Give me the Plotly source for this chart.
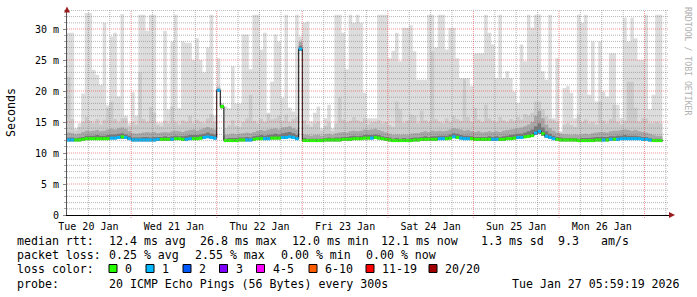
import plotly.graph_objects as go
import pandas as pd

# ---------------- data (hourly, starting Tue 20 Jan 2026 06:00) ----------------
median = [12.1,12.1,12.1,12.1,12.2,12.3,12.3,12.3,12.3,12.3,
          12.3,12.3,12.4,12.4,12.5,12.6,12.5,12.3,12.1,12.1,
          12.1,12.1,12.1,12.1,12.1,12.2,12.2,12.2,12.2,12.2,
          12.3,12.3,12.2,12.2,12.3,12.3,12.3,12.4,12.5,12.6,
          12.5,12.4,20.1,17.5,12.0,12.0,12.0,12.0,12.1,12.1,
          12.1,12.1,12.2,12.3,12.3,12.3,12.3,12.4,12.4,12.4,
          12.5,12.5,12.6,12.5,12.3,26.8,12.0,12.0,12.0,12.0,
          12.0,12.0,12.1,12.1,12.1,12.1,12.1,12.2,12.2,12.2,
          12.3,12.3,12.3,12.4,12.4,12.4,12.5,12.4,12.3,12.2,
          12.1,12.0,12.0,12.0,12.0,12.0,12.0,12.1,12.1,12.2,
          12.2,12.2,12.2,12.2,12.3,12.3,12.3,12.4,12.6,12.5,
          12.4,12.3,12.3,12.3,12.2,12.2,12.2,12.2,12.2,12.2,
          12.2,12.2,12.2,12.3,12.3,12.4,12.5,12.5,12.6,12.7,
          12.8,13.2,13.5,13.1,12.7,12.5,12.3,12.2,12.1,12.1,
          12.1,12.1,12.1,12.0,12.0,12.0,12.0,12.0,12.1,12.1,
          12.1,12.1,12.2,12.2,12.2,12.3,12.3,12.3,12.3,12.3,
          12.3,12.2,12.2,12.1,12.0,12.0,12.0]

loss = [1,1,0,0,0,0,0,0,0,0,
        0,0,1,1,1,0,1,1,1,1,
        1,1,1,1,1,1,0,0,0,1,
        0,0,0,1,1,0,0,0,1,1,
        1,1,1,0,0,0,0,0,0,0,
        1,1,0,0,0,1,1,0,0,0,
        1,1,1,1,1,1,0,0,0,0,
        0,0,0,0,0,0,0,0,0,0,
        0,0,0,0,0,1,0,0,0,0,
        0,0,0,0,0,0,0,0,0,0,
        0,0,0,0,1,1,0,0,1,0,
        1,1,1,0,0,0,0,0,0,1,
        1,0,0,0,0,0,1,1,0,0,
        0,1,1,0,1,1,1,0,0,0,
        0,0,0,0,0,0,0,0,0,0,
        1,0,1,0,1,1,1,1,1,1,
        1,1,1,1,0,0,0]

rtt_max = [29.4,29.4,14.0,14.8,19.6,32.6,32.6,23.4,22.6,21.0,
           31.0,17.7,28.8,29.4,19.1,32.4,16.0,14.8,19.8,16.0,
           32.3,32.3,29.7,32.3,32.3,14.9,14.9,29.7,17.0,28.0,
           32.3,17.2,28.0,27.8,27.8,25.0,28.5,25.0,23.0,27.0,
           32.3,16.0,25.3,18.1,17.5,17.2,24.0,18.0,18.0,29.1,
           29.1,23.5,32.3,32.3,26.7,29.4,16.5,21.5,29.1,28.0,
           18.9,32.3,17.3,16.7,32.3,28.8,31.0,31.2,15.1,16.5,
           17.5,14.0,15.6,17.8,14.0,32.3,32.3,29.4,23.5,32.3,
           31.0,32.3,31.0,19.7,15.6,15.6,15.6,32.3,32.3,32.3,
           25.3,26.5,29.4,24.8,30.2,30.2,30.6,26.4,21.8,21.8,
           21.8,32.3,32.3,27.0,32.3,32.3,26.7,30.2,30.2,25.3,
           22.1,19.9,22.1,20.8,26.1,26.1,26.1,32.3,29.4,27.5,
           22.1,32.3,22.1,23.2,22.1,19.9,18.1,27.5,24.8,32.3,
           30.2,32.3,32.3,23.2,21.8,32.3,15.6,25.3,13.5,20.5,
           20.8,19.7,15.6,32.3,31.0,32.3,19.4,28.0,18.3,28.0,
           19.9,19.1,26.1,26.1,17.8,15.6,31.8,28.0,31.8,28.5,
           25.0,25.0,32.3,17.0,19.4,32.3,32.3]

rtt_p90 = [22.3,15.5,13.6,14.2,15.0,15.8,15.2,14.8,15.5,14.6,
           15.4,17.3,18.3,15.5,14.9,15.6,15.6,14.3,15.0,14.6,
           23.0,15.5,15.0,17.4,16.5,14.5,14.3,15.2,14.8,17.5,
           15.0,14.6,15.3,15.0,16.0,14.8,15.4,15.0,14.8,15.6,
           16.3,15.0,20.8,17.9,14.0,14.5,15.3,14.4,14.2,15.0,
           15.6,19.4,15.2,14.8,15.5,15.0,16.3,15.4,15.6,16.0,
           15.2,16.2,15.0,15.5,15.8,28.2,15.3,14.6,14.2,14.8,
           15.0,13.6,14.4,14.9,13.5,14.8,19.0,15.4,15.0,15.2,
           15.8,15.3,15.0,15.6,14.6,14.9,15.0,15.3,14.8,15.0,
           14.5,14.2,18.3,17.0,14.8,15.2,16.2,16.0,14.8,16.8,
           15.3,15.0,26.4,15.5,15.0,14.8,15.6,15.0,16.0,15.5,
           15.2,22.0,15.8,15.0,17.3,15.4,15.0,17.8,15.6,15.2,
           15.0,15.8,15.3,15.0,15.5,15.2,15.8,15.4,16.3,16.0,
           16.5,18.3,18.3,17.0,16.0,15.5,15.3,15.0,13.3,14.6,
           14.8,14.5,14.2,16.2,15.0,15.4,14.8,15.0,14.6,18.3,
           15.2,14.8,15.5,17.8,15.0,14.6,15.2,21.5,21.5,17.3,
           15.0,15.6,15.6,14.8,14.8,15.0,14.8]

rtt_p75 = [13.3,13.2,13.0,13.1,13.4,13.6,13.5,13.6,13.7,13.5,
           13.6,13.8,13.9,13.8,14.0,14.1,13.9,13.5,13.2,13.1,
           13.2,13.3,13.4,13.3,13.4,13.2,13.3,13.4,13.3,13.5,
           13.6,13.5,13.4,13.6,13.7,13.8,13.6,13.8,14.0,14.2,
           14.0,13.8,20.5,17.8,12.9,13.0,13.1,13.0,13.1,13.2,
           13.3,13.2,13.4,13.6,13.7,13.6,13.8,13.9,14.0,13.8,
           14.1,14.2,14.3,14.0,13.8,27.9,13.0,12.9,12.8,12.9,
           12.9,12.8,13.0,13.1,12.9,13.2,13.3,13.4,13.3,13.5,
           13.6,13.5,13.6,13.8,13.7,13.8,13.9,13.7,13.5,13.3,
           13.1,12.9,13.0,12.9,13.0,12.9,13.1,13.2,13.2,13.4,
           13.5,13.4,13.6,13.5,13.6,13.5,13.6,13.8,14.0,13.9,
           13.8,13.6,13.7,13.5,13.4,13.5,13.3,13.4,13.5,13.4,
           13.5,13.4,13.6,13.7,13.8,13.9,14.0,14.1,14.3,14.6,
           15.0,16.0,16.8,15.6,14.6,14.0,13.6,13.3,13.1,13.0,
           13.0,12.9,13.0,12.9,13.0,13.1,13.0,13.2,13.3,13.4,
           13.4,13.3,13.5,13.6,13.6,13.7,13.8,13.7,13.6,13.7,
           13.5,13.4,13.3,13.1,12.9,12.8,12.8]

rtt_p60 = [12.5,12.5,12.4,12.5,12.6,12.8,12.8,12.8,12.9,12.8,
           12.8,12.9,13.0,13.0,13.1,13.2,13.0,12.8,12.5,12.5,
           12.5,12.6,12.6,12.5,12.6,12.6,12.6,12.7,12.6,12.7,
           12.8,12.7,12.7,12.8,12.9,12.9,12.9,13.0,13.1,13.3,
           13.1,13.0,20.3,17.7,12.3,12.4,12.4,12.4,12.5,12.5,
           12.6,12.5,12.7,12.8,12.9,12.8,12.9,13.0,13.1,13.0,
           13.2,13.3,13.4,13.2,12.9,27.3,12.4,12.3,12.3,12.3,
           12.3,12.3,12.4,12.5,12.4,12.5,12.5,12.6,12.6,12.7,
           12.8,12.7,12.8,12.9,12.9,12.9,13.0,12.9,12.7,12.6,
           12.5,12.3,12.4,12.3,12.4,12.3,12.4,12.5,12.5,12.6,
           12.7,12.6,12.7,12.7,12.8,12.8,12.8,13.0,13.2,13.1,
           12.9,12.8,12.8,12.7,12.6,12.6,12.6,12.6,12.7,12.6,
           12.7,12.6,12.7,12.8,12.9,13.0,13.1,13.1,13.3,13.5,
           13.8,14.3,14.8,14.1,13.5,13.1,12.8,12.6,12.5,12.4,
           12.4,12.4,12.4,12.3,12.4,12.4,12.4,12.5,12.6,12.6,
           12.6,12.6,12.7,12.7,12.8,12.8,12.9,12.8,12.8,12.8,
           12.7,12.6,12.6,12.4,12.3,12.3,12.3]

rtt_min = [11.9,11.9,11.9,11.9,12.0,12.1,12.1,12.1,12.1,12.1,
           12.1,12.1,12.2,12.2,12.3,12.3,12.3,12.1,11.9,11.9,
           11.9,11.9,11.9,11.9,11.9,12.0,12.0,12.0,12.0,12.0,
           12.1,12.1,12.0,12.0,12.1,12.1,12.1,12.2,12.3,12.4,
           12.3,12.2,19.9,17.2,11.8,11.8,11.8,11.8,11.9,11.9,
           11.9,11.9,12.0,12.1,12.1,12.1,12.1,12.2,12.2,12.2,
           12.3,12.3,12.4,12.3,12.1,26.5,11.8,11.8,11.8,11.8,
           11.8,11.8,11.9,11.9,11.9,11.9,11.9,12.0,12.0,12.0,
           12.1,12.1,12.1,12.2,12.2,12.2,12.3,12.2,12.1,12.0,
           11.9,11.8,11.8,11.8,11.8,11.8,11.8,11.9,11.9,12.0,
           12.0,12.0,12.0,12.0,12.1,12.1,12.1,12.2,12.4,12.3,
           12.2,12.1,12.1,12.1,12.0,12.0,12.0,12.0,12.0,12.0,
           12.0,12.0,12.0,12.1,12.1,12.2,12.3,12.3,12.4,12.5,
           12.6,12.9,13.1,12.8,12.4,12.3,12.1,12.0,11.9,11.9,
           11.9,11.9,11.9,11.8,11.8,11.8,11.8,11.8,11.9,11.9,
           11.9,11.9,12.0,12.0,12.0,12.1,12.1,12.1,12.1,12.1,
           12.1,12.0,12.0,11.9,11.8,11.8,11.8]

start_time = "2026-01-20 06:00"
day_labels = ["Tue 20 Jan", "Wed 21 Jan", "Thu 22 Jan", "Fri 23 Jan",
              "Sat 24 Jan", "Sun 25 Jan", "Mon 26 Jan"]
y_tick_vals = [0, 5, 10, 15, 20, 25, 30]
y_tick_labels = ["0", "5 m", "10 m", "15 m", "20 m", "25 m", "30 m"]

loss_bins = ["0", "1", "2", "3", "4-5", "6-10", "11-19", "20/20"]
loss_colors = ["#26ff00", "#00b8ff", "#0059ff", "#7e00ff",
               "#ff00ff", "#ff5e00", "#ff0000", "#a00000"]

rtt_stats = ["12.4 ms avg", "26.8 ms max", "12.0 ms min", "12.1 ms now", "1.3 ms sd", "9.3", "am/s"]
loss_stats = ["0.25 % avg", "2.55 % max", "0.00 % min", "0.00 % now"]
probe_text = "20 ICMP Echo Pings (56 Bytes) every 300s"
stamp_text = "Tue Jan 27 05:59:19 2026"

# ---------------- geometry ----------------
W, H = 697, 297
ML, MR, MT, MB = 67, 28, 10, 82
PW, PH = W - ML - MR, H - MT - MB
PX_PER_MS = 6.2
PX_PER_HOUR = 3.565
Y_MAX = PH / PX_PER_MS
MONO = "DejaVu Sans Mono"

def px_x(px):
    return (px - ML) / PW

def px_y(py):
    return (MT + PH - py) / PH

n = len(median)
t0 = pd.Timestamp(start_time)
edges = [t0 + pd.Timedelta(hours=i) for i in range(n + 1)]
x_end = t0 + pd.Timedelta(hours=PW / PX_PER_HOUR)

def stepped(vals):
    return list(vals) + [vals[-1]]

fig = go.Figure()

# smoke layers as stepped filled bands between rtt_min and each upper percentile
layers = [(rtt_max, "#dddddd"), (rtt_p90, "#cbcbcb"), (rtt_p75, "#a8a8a8"), (rtt_p60, "#787878")]
for upper, col in layers:
    fig.add_trace(go.Scatter(
        x=edges, y=stepped(rtt_min), mode="lines",
        line=dict(shape="hv", width=0, color=col),
        hoverinfo="skip", showlegend=False))
    fig.add_trace(go.Scatter(
        x=edges, y=stepped(upper), mode="lines", fill="tonexty", fillcolor=col,
        line=dict(shape="hv", width=0, color=col),
        hoverinfo="skip", showlegend=False))

# median step line (black)
fig.add_trace(go.Scatter(
    x=edges, y=stepped(median), mode="lines",
    line=dict(shape="hv", color="#000000", width=1),
    hoverinfo="skip", showlegend=False))

# median coloured by loss: one horizontal segment per hour
for ci, col in enumerate(loss_colors):
    xs, ys = [], []
    for i in range(n):
        if loss[i] == ci:
            xs += [edges[i], edges[i + 1], None]
            ys += [median[i], median[i], None]
    if xs:
        fig.add_trace(go.Scatter(
            x=xs, y=ys, mode="lines", line=dict(color=col, width=3),
            connectgaps=False, hoverinfo="skip", showlegend=False))

shapes = []
GREY = "rgba(120,120,120,0.55)"
RED = "rgba(225,0,0,0.42)"
# horizontal grid
for v in range(1, int(Y_MAX) + 1):
    shapes.append(dict(type="line", xref="paper", yref="y", x0=0, x1=1, y0=v, y1=v,
                       line=dict(color=RED if v % 5 == 0 else GREY, width=1, dash="1px,1px"),
                       layer="above"))
# vertical grid every 6 hours, red at midnight
t = t0 + pd.Timedelta(hours=6)
while t <= x_end:
    is_mid = t.hour == 0
    shapes.append(dict(type="line", xref="x", yref="paper", x0=t, x1=t,
                       y0=px_y(218) if is_mid else 0, y1=1,
                       line=dict(color=RED if is_mid else GREY, width=1, dash="1px,1px"),
                       layer="above"))
    t += pd.Timedelta(hours=6)

# axis arrows
ARROW = "#9b1c1c"
shapes.append(dict(type="path", xref="paper", yref="paper",
                   path=f"M {px_x(64)},{px_y(12.5)} L {px_x(70)},{px_y(12.5)} L {px_x(67)},{px_y(6.5)} Z",
                   fillcolor=ARROW, line=dict(width=0), layer="above"))
shapes.append(dict(type="path", xref="paper", yref="paper",
                   path=f"M {px_x(669)},{px_y(212)} L {px_x(669)},{px_y(218)} L {px_x(675)},{px_y(215)} Z",
                   fillcolor=ARROW, line=dict(width=0), layer="above"))

annotations = []

def txt(text, x, y, size=11.6, anchor="left", color="#000000", angle=0):
    annotations.append(dict(text=text, x=px_x(x), y=px_y(y), xref="paper", yref="paper",
                            xanchor=anchor, yanchor="middle", showarrow=False, borderpad=0,
                            textangle=angle, font=dict(family=MONO, size=size, color=color)))

# y axis title and side text
txt("Seconds", 11, 113, size=11.6, anchor="center", angle=-90)
txt("RRDTOOL / TOBI OETIKER", 688, 61, size=8.2, anchor="center", color="#b0b0b0", angle=90)

# legend lines
L1, L2, L3, L4 = 240.5, 255.0, 269.3, 283.8
txt("median rtt:", 16, L1)
for s, x in zip(rtt_stats, [107.7, 199, 290.7, 380.3, 480.3, 557, 600.3]):
    txt(s, x, L1)
txt("packet loss:", 16, L2)
for s, x in zip(loss_stats, [107.7, 194, 280, 365.3]):
    txt(s, x, L2)
txt("loss color:", 16, L3)
box_left = [109, 146, 183, 219.5, 256.5, 309, 366, 429]
for lbl, col, bx in zip(loss_bins, loss_colors, box_left):
    shapes.append(dict(type="rect", xref="paper", yref="paper",
                       x0=px_x(bx), x1=px_x(bx + 8), y0=px_y(272.5), y1=px_y(264.5),
                       fillcolor=col, line=dict(color="#000000", width=1)))
    txt(lbl, bx + 15, L3)
txt("probe:", 16, L4)
txt(probe_text, 107.7, L4)
txt(stamp_text, 681, L4, anchor="right")

fig.update_layout(
    width=W, height=H, margin=dict(l=ML, r=MR, t=MT, b=MB, pad=0),
    paper_bgcolor="#ffffff", plot_bgcolor="#ffffff",
    showlegend=False, shapes=shapes, annotations=annotations,
    font=dict(family=MONO, size=10, color="#000000"),
    xaxis=dict(type="date", range=[t0, x_end], showgrid=False, zeroline=False,
               showline=True, linecolor="#000000", linewidth=1,
               tickvals=[t0 + pd.Timedelta(hours=6 + 24 * i) for i in range(len(day_labels))],
               ticktext=day_labels, ticks="", tickfont=dict(family=MONO, size=10),
               ticklabelstandoff=2, fixedrange=True),
    yaxis=dict(range=[0, Y_MAX], showgrid=False, zeroline=False,
               showline=True, linecolor="#555555", linewidth=1,
               tickvals=y_tick_vals, ticktext=y_tick_labels,
               ticks="outside", ticklen=3, tickcolor="#888888",
               minor=dict(dtick=1, ticks="outside", ticklen=2, tickcolor="#aaaaaa"),
               tickfont=dict(family=MONO, size=10), ticklabelstandoff=2, fixedrange=True),
)

fig.write_html("out.html", config={"displayModeBar": False})
